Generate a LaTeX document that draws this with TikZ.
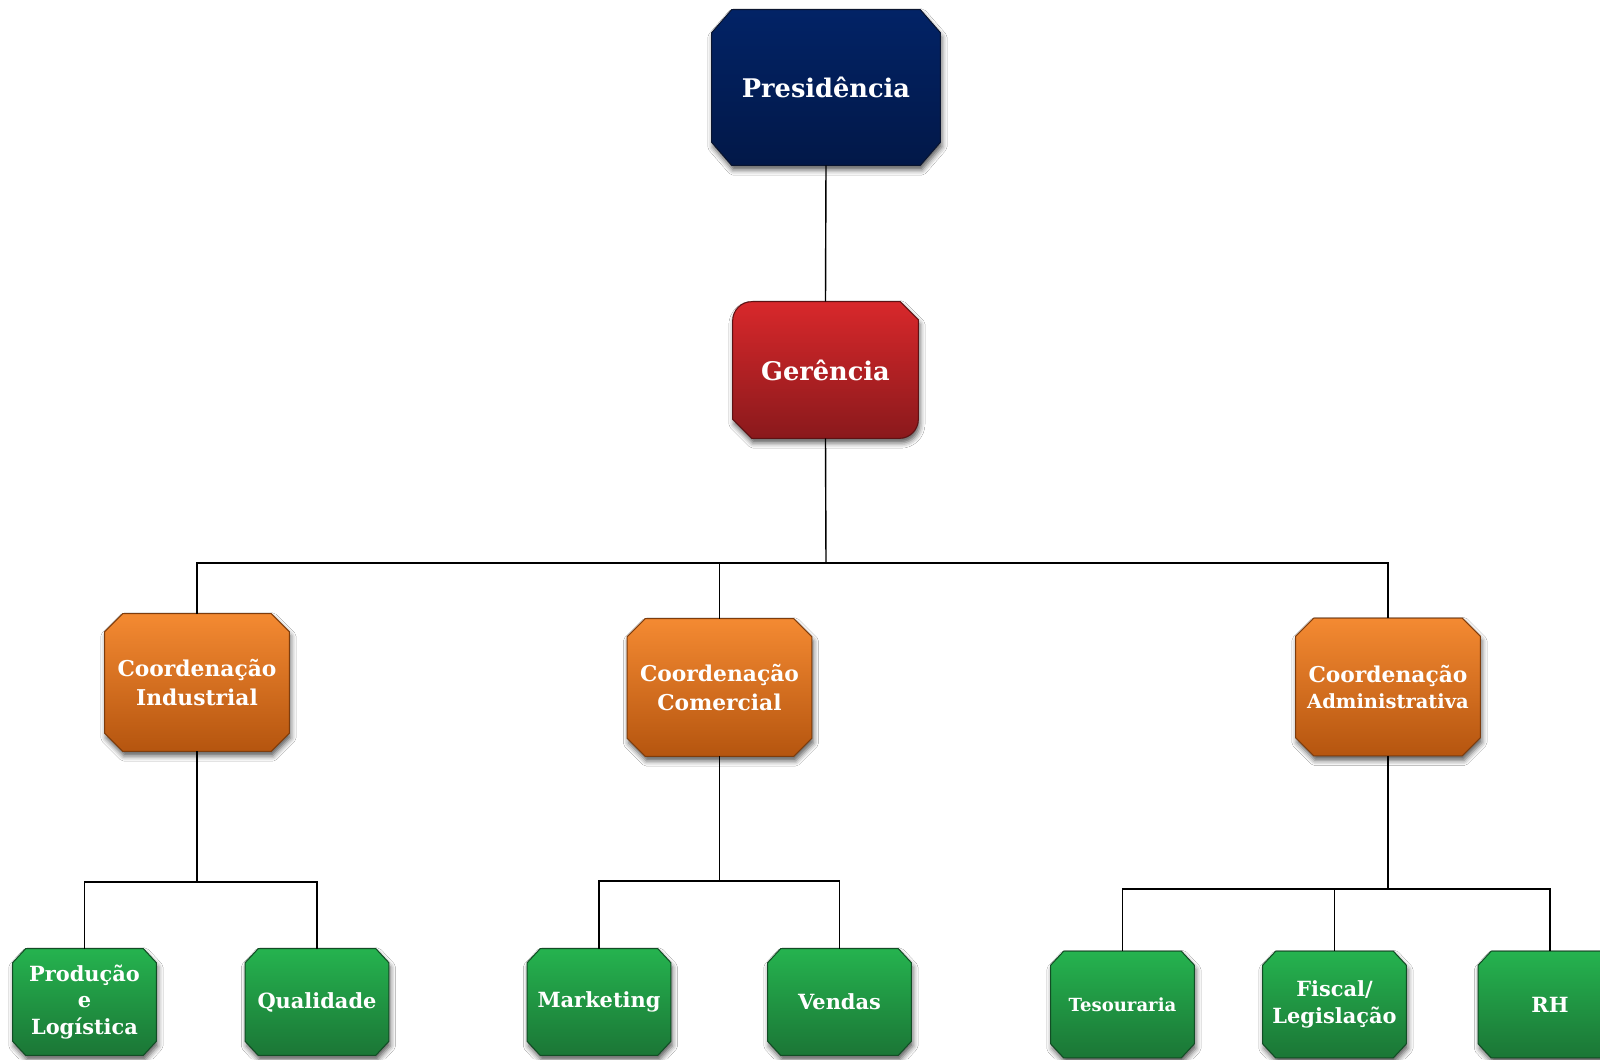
\documentclass[tikz,border=0pt]{standalone}
\usepackage{fontspec}
\setmainfont{DejaVu Serif}
\usetikzlibrary{backgrounds,shadows.blur}

\definecolor{navyT}{HTML}{022366}
\definecolor{navyB}{HTML}{021848}
\definecolor{navyD}{HTML}{0A1530}
\definecolor{redT}{HTML}{D8282B}
\definecolor{redB}{HTML}{8A191C}
\definecolor{redD}{HTML}{5E1214}
\definecolor{orT}{HTML}{F48A32}
\definecolor{orB}{HTML}{B5550F}
\definecolor{orD}{HTML}{7E3C0C}
\definecolor{grT}{HTML}{25B34F}
\definecolor{grB}{HTML}{1B7636}
\definecolor{grD}{HTML}{124D25}

% outline with cut corners drawn around a named node
\newcommand\chamferbox[4]{%
  \path[#4] ([xshift=#2]#1.north west) -- ([xshift=-#2]#1.north east)
    -- ([yshift=-#3]#1.north east) -- ([yshift=#3]#1.south east)
    -- ([xshift=-#2]#1.south east) -- ([xshift=#2]#1.south west)
    -- ([yshift=#3]#1.south west) -- ([yshift=-#3]#1.north west) -- cycle;}

\tikzset{
  softshadow/.style={blur shadow={shadow xshift=0.8pt, shadow yshift=-2.6pt,
      shadow blur radius=3pt, shadow opacity=65}},
  box/.style={inner sep=0pt, text=white, align=center},
  topbox/.style={box, minimum width=4.56cm, minimum height=3.1cm,
      font=\bfseries\fontsize{14.6}{18}\selectfont},
  mgrbox/.style={box, minimum width=3.7cm, minimum height=2.72cm,
      font=\bfseries\fontsize{14.6}{18}\selectfont},
  midbox/.style={box, minimum width=3.68cm, minimum height=2.74cm,
      font=\bfseries\fontsize{12.4}{17}\selectfont},
  leafbox/.style={box, minimum width=2.86cm, minimum height=2.12cm,
      font=\bfseries\fontsize{11.9}{15}\selectfont},
  topfill/.style={softshadow, draw=navyD, line width=0.6pt, top color=navyT,
      middle color=navyT!85!navyB, bottom color=navyB},
  mgrfill/.style={softshadow, draw=redD, line width=0.6pt, top color=redT,
      middle color=redT!75!redB, bottom color=redB},
  midfill/.style={softshadow, draw=orD, line width=0.6pt, top color=orT,
      middle color=orT!70!orB, bottom color=orB},
  leaffill/.style={softshadow, draw=grD, line width=0.6pt, top color=grT,
      middle color=grT!70!grB, bottom color=grB},
  conn/.style={draw=black, line width=0.8pt},
}

\begin{document}
\begin{tikzpicture}[x=0.02cm, y=-0.02cm]
  \begin{scope}[on background layer]
    \fill[white] (0,0) rectangle (1600,1059);
  \end{scope}
  \useasboundingbox (0,0) rectangle (1600,1059);

  % top level
  \node[topbox] (pres) at (826,87.5) {Presidência};

  % management
  \node[mgrbox] (ger) at (825.5,370) {Gerência};

  % coordinations
  \node[midbox] (ind) at (197,682.5) {Coordenação\\Industrial};
  \node[midbox] (com) at (719.5,687.5) {Coordenação\\Comercial};
  \node[midbox] (adm) at (1388,687) {Coordenação\\[-2pt]{\fontsize{11.1}{14}\selectfont Administrativa}};

  % departments
  \node[leafbox] (prod) at (84.5,1002) {Produção\\e\\Logística};
  \node[leafbox] (qual) at (317,1002) {Qualidade};
  \node[leafbox] (mkt)  at (599,1002) {Marketing};
  \node[leafbox] (vend) at (839.5,1002) {Vendas};
  \node[leafbox, font=\bfseries\fontsize{10.3}{12}\selectfont] (tes) at (1122.5,1004.5) {Tesouraria};
  \node[leafbox] (fis)  at (1334.5,1004.5) {Fiscal/\\Legislação};
  \node[leafbox] (rh)   at (1550,1004.5) {RH};

  % box backgrounds
  \begin{scope}[on background layer]
    \chamferbox{pres}{0.4cm}{0.46cm}{topfill}
    % management box: two rounded and two cut corners
    \path[mgrfill]
      ([yshift=-0.38cm]ger.north west)
        .. controls ([yshift=-0.17cm]ger.north west) and ([xshift=0.17cm]ger.north west)
        .. ([xshift=0.38cm]ger.north west)
      -- ([xshift=-0.36cm]ger.north east) -- ([yshift=-0.36cm]ger.north east)
      -- ([yshift=0.38cm]ger.south east)
        .. controls ([yshift=0.17cm]ger.south east) and ([xshift=-0.17cm]ger.south east)
        .. ([xshift=-0.38cm]ger.south east)
      -- ([xshift=0.38cm]ger.south west) -- ([yshift=0.38cm]ger.south west) -- cycle;
    \foreach \n in {ind,com,adm}{\chamferbox{\n}{0.36cm}{0.36cm}{midfill}}
    \foreach \n in {prod,qual,mkt,vend,tes,fis,rh}{\chamferbox{\n}{0.26cm}{0.28cm}{leaffill}}
  \end{scope}

  % junction points
  \coordinate (busG) at (826,563);
  \coordinate (busI) at (197,882);
  \coordinate (busC) at (719.5,881);
  \coordinate (busA) at (1388,889);

  % connectors
  \begin{scope}[on background layer]
    \draw[conn] (pres.south) -- (ger.north);
    \draw[conn] (ger.south) -- (busG);
    \draw[conn] (ind.north) |- (busG) -| (adm.north);
    \draw[conn] (busG -| com.north) -- (com.north);

    \draw[conn] (ind.south) -- (busI);
    \draw[conn] (prod.north) |- (busI) -| (qual.north);

    \draw[conn] (com.south) -- (busC);
    \draw[conn] (mkt.north) |- (busC) -| (vend.north);

    \draw[conn] (adm.south) -- (busA);
    \draw[conn] (tes.north) |- (busA) -| (rh.north);
    \draw[conn] (busA -| fis.north) -- (fis.north);
  \end{scope}
\end{tikzpicture}
\end{document}
